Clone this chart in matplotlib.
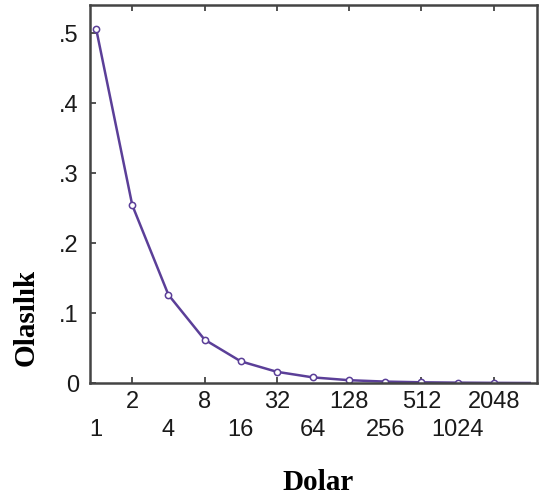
import numpy as np
import matplotlib
matplotlib.use("Agg")
import matplotlib.pyplot as plt

# dollar amounts (categories) and probabilities
dolar = ["1", "2", "4", "8", "16", "32", "64", "128", "256", "512", "1024", "2048"]
olasilik = [0.506, 0.254, 0.126, 0.062, 0.031, 0.016, 0.008, 0.004, 0.002, 0.001, 0.0005, 0.0002]
tail = 0.0  # line runs on past the last marker
yticks = [0, 0.1, 0.2, 0.3, 0.4, 0.5]
ylabels = ["0", ".1", ".2", ".3", ".4", ".5"]

purple = "#5b3f98"
axcol = "#444444"
txtcol = "#1a1a1a"

fig = plt.figure(figsize=(5.44, 4.99), dpi=100)
ax = fig.add_axes([90 / 544, 1 - 383 / 499, (537 - 90) / 544, (383 - 5) / 499])

x = np.arange(len(dolar))
ax.plot(list(x) + [len(dolar)], olasilik + [tail], color=purple, lw=1.8)
ax.plot(x, olasilik, "o", ms=4.5, mfc="white", mec=purple, mew=1.1)

ax.set_xlim(-0.17, 12.2)
ax.set_ylim(0, 0.54)

# odd positions: top row labels with ticks; even positions: lower row, no ticks
ax.set_xticks(x[1::2])
ax.set_xticklabels(dolar[1::2])
ax.set_xticks(x[0::2], minor=True)
ax.set_xticklabels(dolar[0::2], minor=True)
ax.tick_params(axis="x", which="major", direction="in", length=4, width=1.3,
               color=axcol, top=True, pad=6, labelsize=17, labelcolor=txtcol)
ax.tick_params(axis="x", which="minor", length=0, pad=26, labelsize=17,
               labelcolor=txtcol)

ax.set_yticks(yticks)
ax.set_yticklabels(ylabels)
ax.tick_params(axis="y", direction="in", length=4, width=1.3, color=axcol,
               pad=8, labelsize=17, labelcolor=txtcol)

for lab in ax.get_xticklabels(which="both") + ax.get_yticklabels():
    lab.set_family("Liberation Sans")

for s in ax.spines.values():
    s.set_color(axcol)
    s.set_linewidth(1.8)

fig.text(26 / 544, 1 - 317 / 499, "Olasılık", rotation=90, ha="center", va="center",
         family="Liberation Serif", weight="bold", fontsize=21)
fig.text(318 / 544, 1 - 483 / 499, "Dolar", ha="center", va="center",
         family="Liberation Serif", weight="bold", fontsize=21)

fig.savefig("out.png", dpi=100)
